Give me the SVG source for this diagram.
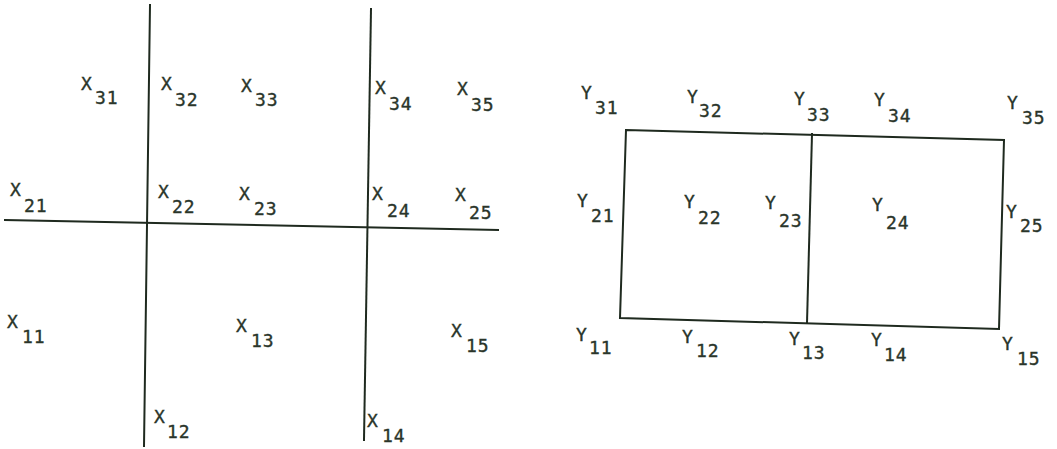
<svg xmlns="http://www.w3.org/2000/svg" width="1057" height="449" viewBox="0 0 1057 449">
<style>
.ln{stroke:#1f2a1f;stroke-width:2;fill:none;stroke-linecap:square;stroke-linejoin:miter}
text{font-family:"DejaVu Sans Mono","Liberation Mono",monospace;font-size:18px;fill:#2a352a;stroke:#2a352a;stroke-width:0.35}
.s{letter-spacing:0.8px}
</style>
<rect width="1057" height="449" fill="#fff"/>
<g id="connectors">
<line class="ln" x1="5" y1="220" x2="498" y2="230"/>
<line class="ln" x1="150" y1="5" x2="144" y2="446"/>
<line class="ln" x1="371" y1="9" x2="364" y2="440"/>
<polygon class="ln" points="626,130 1004,140 999,329 620,318"/>
<line class="ln" x1="812" y1="134" x2="807" y2="323"/>
</g>
<g id="X31"><text x="81" y="90">X<tspan class="s" x="95" y="104">31</tspan></text></g>
<g id="X32"><text x="161" y="90">X<tspan class="s" x="175" y="106">32</tspan></text></g>
<g id="X33"><text x="241" y="92">X<tspan class="s" x="255" y="106">33</tspan></text></g>
<g id="X34"><text x="375" y="94">X<tspan class="s" x="389" y="110">34</tspan></text></g>
<g id="X35"><text x="457" y="95">X<tspan class="s" x="471" y="111">35</tspan></text></g>
<g id="X21"><text x="10" y="196">X<tspan class="s" x="24" y="212">21</tspan></text></g>
<g id="X22"><text x="158" y="198">X<tspan class="s" x="172" y="213">22</tspan></text></g>
<g id="X23"><text x="239" y="200">X<tspan class="s" x="254" y="215">23</tspan></text></g>
<g id="X24"><text x="372" y="200">X<tspan class="s" x="387" y="217">24</tspan></text></g>
<g id="X25"><text x="455" y="201">X<tspan class="s" x="469" y="219">25</tspan></text></g>
<g id="X11"><text x="7" y="328">X<tspan class="s" x="22" y="343">11</tspan></text></g>
<g id="X13"><text x="236" y="332">X<tspan class="s" x="251" y="347">13</tspan></text></g>
<g id="X15"><text x="451" y="337">X<tspan class="s" x="466" y="352">15</tspan></text></g>
<g id="X12"><text x="154" y="423">X<tspan class="s" x="167" y="438">12</tspan></text></g>
<g id="X14"><text x="367" y="427">X<tspan class="s" x="382" y="442">14</tspan></text></g>
<g id="Y31"><text x="581" y="99">Y<tspan class="s" x="595" y="114">31</tspan></text></g>
<g id="Y32"><text x="687" y="103">Y<tspan class="s" x="699" y="117">32</tspan></text></g>
<g id="Y33"><text x="794" y="105">Y<tspan class="s" x="807" y="121">33</tspan></text></g>
<g id="Y34"><text x="874" y="106">Y<tspan class="s" x="888" y="122">34</tspan></text></g>
<g id="Y35"><text x="1007" y="109">Y<tspan class="s" x="1022" y="124">35</tspan></text></g>
<g id="Y21"><text x="577" y="207">Y<tspan class="s" x="591" y="222">21</tspan></text></g>
<g id="Y22"><text x="684" y="208">Y<tspan class="s" x="698" y="224">22</tspan></text></g>
<g id="Y23"><text x="765" y="209">Y<tspan class="s" x="779" y="227">23</tspan></text></g>
<g id="Y24"><text x="872" y="211">Y<tspan class="s" x="886" y="229">24</tspan></text></g>
<g id="Y25"><text x="1006" y="218">Y<tspan class="s" x="1020" y="232">25</tspan></text></g>
<g id="Y11"><text x="576" y="341">Y<tspan class="s" x="589" y="354">11</tspan></text></g>
<g id="Y12"><text x="682" y="343">Y<tspan class="s" x="696" y="357">12</tspan></text></g>
<g id="Y13"><text x="789" y="345">Y<tspan class="s" x="802" y="359">13</tspan></text></g>
<g id="Y14"><text x="871" y="346">Y<tspan class="s" x="884" y="361">14</tspan></text></g>
<g id="Y15"><text x="1002" y="350">Y<tspan class="s" x="1017" y="365">15</tspan></text></g>
</svg>
